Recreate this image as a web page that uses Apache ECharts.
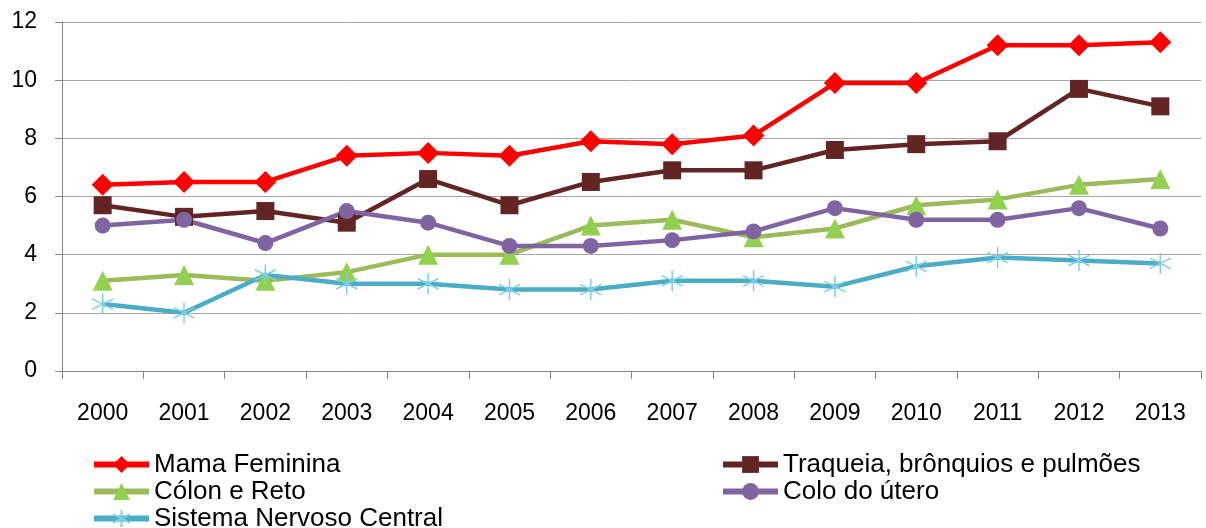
<!DOCTYPE html>
<html>
<head>
<meta charset="utf-8">
<script src="https://cdn.jsdelivr.net/npm/echarts@6/dist/echarts.min.js"></script>
<style>
  html, body { margin: 0; padding: 0; background: #fff; overflow: hidden; }
  #chart { width: 1206px; height: 560px; }
</style>
</head>
<body>
<div id="chart"></div>
<script>
var years = ['2000', '2001', '2002', '2003', '2004', '2005', '2006', '2007', '2008', '2009', '2010', '2011', '2012', '2013'];
var mama = [6.4, 6.5, 6.5, 7.4, 7.5, 7.4, 7.9, 7.8, 8.1, 9.9, 9.9, 11.2, 11.2, 11.3];
var traqueia = [5.7, 5.3, 5.5, 5.1, 6.6, 5.7, 6.5, 6.9, 6.9, 7.6, 7.8, 7.9, 9.7, 9.1];
var colon = [3.1, 3.3, 3.1, 3.4, 4.0, 4.0, 5.0, 5.2, 4.6, 4.9, 5.7, 5.9, 6.4, 6.6];
var colo = [5.0, 5.2, 4.4, 5.5, 5.1, 4.3, 4.3, 4.5, 4.8, 5.6, 5.2, 5.2, 5.6, 4.9];
var snc = [2.3, 2.0, 3.3, 3.0, 3.0, 2.8, 2.8, 3.1, 3.1, 2.9, 3.6, 3.9, 3.8, 3.7];

var font = '"Liberation Sans", Arial, sans-serif';
var star = 'path://M0,-10L0,10M-8.66,-5L8.66,5M-8.66,5L8.66,-5';

// the page is taller than the shot, so the last legend row gets cut like in the original
var chart = echarts.init(document.getElementById('chart'));

function line(name, data, color, symbol, size, markColor) {
    return {
        name: name,
        type: 'line',
        data: data,
        symbol: symbol,
        symbolSize: size,
        showAllSymbol: true,
        lineStyle: {color: color, width: 4.5},
        itemStyle: {color: markColor || color},
        emphasis: {disabled: true},
        z: 2
    };
}

var sncSeries = line('Sistema Nervoso Central', snc, '#4BACC6', star, 21);
sncSeries.itemStyle = {color: 'rgba(0,0,0,0)', borderColor: '#7DCFE6', borderWidth: 1.5};

var legendText = {fontFamily: font, fontSize: 26, color: '#000', lineHeight: 27};

chart.setOption({
    animation: false,
    grid: {left: 62, right: 5, top: 22, bottom: 189},
    legend: [
        {
            left: 86, top: 446, orient: 'vertical', itemGap: 0, height: 120,
            itemWidth: 55, itemHeight: 21, textStyle: legendText,
            lineStyle: {width: 6},
            data: ['Mama Feminina', 'Cólon e Reto', 'Sistema Nervoso Central']
        },
        {
            left: 715, top: 446, orient: 'vertical', itemGap: 0, height: 120,
            itemWidth: 55, itemHeight: 21, textStyle: legendText,
            lineStyle: {width: 6},
            data: ['Traqueia, brônquios e pulmões', 'Colo do útero']
        }
    ],
    xAxis: {
        type: 'category',
        data: years,
        boundaryGap: true,
        axisLine: {lineStyle: {color: '#868686', width: 1}},
        axisTick: {show: true, length: 8, lineStyle: {color: '#868686'}},
        axisLabel: {fontFamily: font, fontSize: 23, color: '#000', margin: 31}
    },
    yAxis: {
        type: 'value',
        min: 0, max: 12, interval: 2,
        axisLine: {show: true, lineStyle: {color: '#868686', width: 1}},
        axisTick: {show: true, length: 7, lineStyle: {color: '#868686'}},
        splitLine: {lineStyle: {color: '#A6A6A6', width: 1}},
        axisLabel: {fontFamily: font, fontSize: 23, color: '#000', margin: 25}
    },
    series: [
        line('Mama Feminina', mama, '#FF0000', 'diamond', 22),
        line('Traqueia, brônquios e pulmões', traqueia, '#632523', 'rect', 18),
        line('Cólon e Reto', colon, '#9BBB59', 'triangle', 20, '#92D050'),
        line('Colo do útero', colo, '#8064A2', 'circle', 16),
        sncSeries
    ]
});
</script>
</body>
</html>
